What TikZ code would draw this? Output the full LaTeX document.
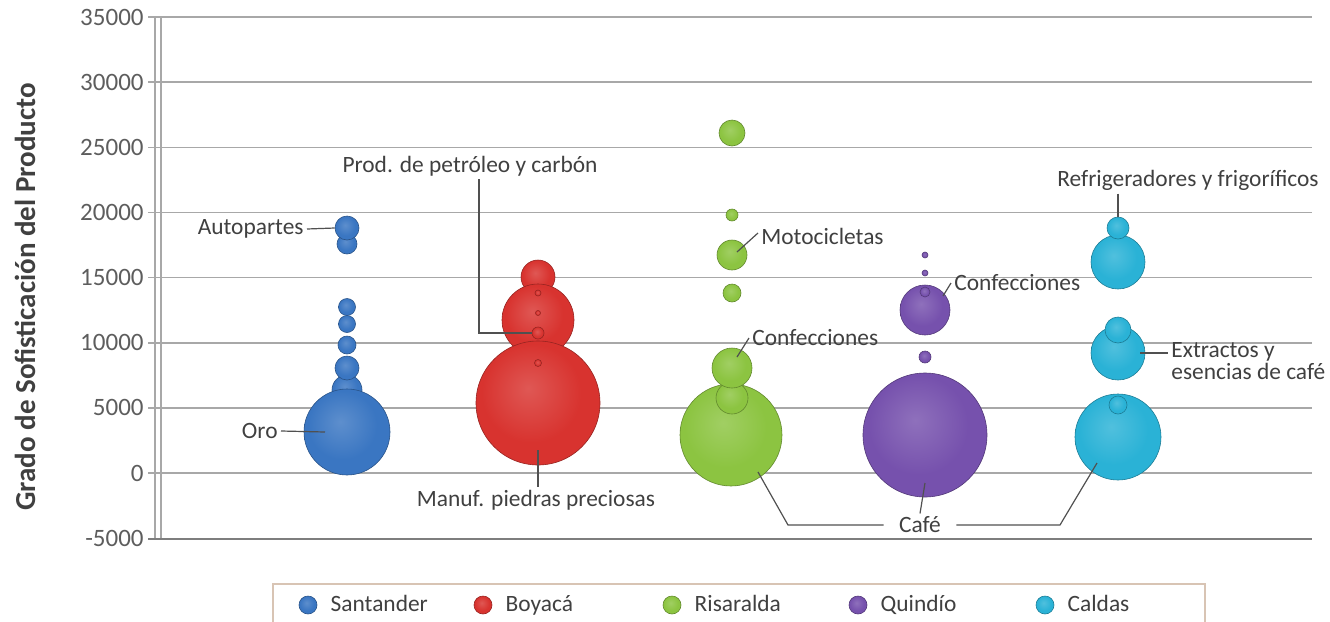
\documentclass[tikz,border=0pt]{standalone}
\usepackage{fontspec}
\setmainfont{Carlito}
\usetikzlibrary{positioning}

\definecolor{santander}{HTML}{3A76C2}
\definecolor{boyaca}{HTML}{D8332F}
\definecolor{risaralda}{HTML}{8CC441}
\definecolor{quindio}{HTML}{7651AD}
\definecolor{caldas}{HTML}{2AB2D6}
\definecolor{gridgray}{HTML}{A8A8A8}
\definecolor{leadgray}{HTML}{505050}
\definecolor{txtgray}{HTML}{404040}
\definecolor{legframe}{HTML}{D8C4B4}

% 3D look of the bubbles
\colorlet{bubhi}{white}\colorlet{bubin}{gray}\colorlet{bubout}{black}
\pgfdeclareradialshading[bubhi,bubin,bubout]{bubble}{\pgfpoint{-4bp}{6bp}}{color(0bp)=(bubhi); color(20bp)=(bubin); color(43bp)=(bubin); color(50bp)=(bubout); color(60bp)=(bubout)}

\tikzset{
  bub/.style={circle, inner sep=0pt, shade, shading=bubble, draw=#1!70!black, line width=0.3pt,
    /utils/exec={\colorlet{bubhi}{#1!82!white}\colorlet{bubin}{#1}\colorlet{bubout}{#1!62!black}}},
}

\begin{document}
\begin{tikzpicture}[x=0.5pt,y=-0.5pt,
  grid/.style={gridgray, line width=0.8pt},
  leader/.style={leadgray, line width=0.6pt},
  lbl/.style={font=\fontsize{11.7}{11.2}\selectfont, text=txtgray, inner sep=1.5pt},
  leglbl/.style={lbl, text height=1.6ex, text depth=0.3ex},
  ticklbl/.style={font=\fontsize{12.5}{14}\selectfont, text=txtgray!85, anchor=east, inner sep=1pt}]
\useasboundingbox (0,0) rectangle (1330,622);

% grid and axes (values in thousands)
\foreach \v in {0,5,...,35}
  \draw[grid] (148,{473-\v*13.025}) -- (1312,{473-\v*13.025});
\foreach \v/\t in {-5/-5000,0/0,5/5000,10/10000,15/15000,20/20000,25/25000,30/30000,35/35000}
  \node[ticklbl] (tick\v) at (146,{473-\v*13.025}) {\t};
\draw[grid] (155,18) -- (155,539);
\draw[grid] (161,18) -- (161,539);
\draw[gridgray!75!black, line width=1pt] (148,539) -- (1312,539);
\node[rotate=90, font=\fontsize{14.5}{16}\selectfont\bfseries, text=txtgray] (ytitle) at (25,297) {Grado de Sofisticación del Producto};

% Santander
\node[bub=santander, minimum size=15] (s1) at (347,390) {};
\node[bub=santander, minimum size=12] (s2) at (347,368) {};
\node[bub=santander, minimum size=9] (s3) at (347,345) {};
\node[bub=santander, minimum size=8.5] (s4) at (347,324) {};
\node[bub=santander, minimum size=8.5] (s5) at (347,307) {};
\node[bub=santander, minimum size=10] (s6) at (347,244) {};
\node[bub=santander, minimum size=12] (autop) at (347,228) {};
\node[bub=santander, minimum size=43] (oro) at (347,432) {};

% Boyaca
\node[bub=boyaca, minimum size=17] (b1) at (538,277) {};
\node[bub=boyaca, minimum size=36] (b2) at (538,320) {};
\node[bub=boyaca, minimum size=62] (boybig) at (538,403) {};
\node[bub=boyaca, minimum size=3] (b3) at (538,293) {};
\node[bub=boyaca, minimum size=2.5] (b4) at (538,313) {};
\node[bub=boyaca, minimum size=6] (petro) at (538,333) {};
\node[bub=boyaca, minimum size=3.5] (b5) at (538,363) {};

% Risaralda
\node[bub=risaralda, minimum size=51] (risbig) at (731,435) {};
\node[bub=risaralda, minimum size=16] (r1) at (732,398) {};
\node[bub=risaralda, minimum size=20] (risconf) at (732,368) {};
\node[bub=risaralda, minimum size=9] (r2) at (732,293) {};
\node[bub=risaralda, minimum size=15] (moto) at (732,255) {};
\node[bub=risaralda, minimum size=6] (r3) at (732,215) {};
\node[bub=risaralda, minimum size=13] (r4) at (732,133) {};

% Quindio
\node[bub=quindio, minimum size=62] (quinbig) at (925,435) {};
\node[bub=quindio, minimum size=6] (q1) at (925,357) {};
\node[bub=quindio, minimum size=25] (quinmed) at (925,310) {};
\node[bub=quindio, minimum size=5] (q2) at (925,292) {};
\node[bub=quindio, minimum size=3] (q3) at (925,273) {};
\node[bub=quindio, minimum size=3] (q4) at (925,255) {};

% Caldas
\node[bub=caldas, minimum size=43] (caldbig) at (1118,437) {};
\node[bub=caldas, minimum size=9] (c1) at (1118,405) {};
\node[bub=caldas, minimum size=27] (extrmed) at (1118,353) {};
\node[bub=caldas, minimum size=13] (c2) at (1118,330) {};
\node[bub=caldas, minimum size=27] (c3) at (1118,262) {};
\node[bub=caldas, minimum size=11] (refr) at (1118,228) {};

% labels
\node[lbl, anchor=east] (autoplbl) at (307,229) {Autopartes};
\draw[leader] (autoplbl.east) -- (autop.west);
\node[lbl, anchor=east] (orolbl) at (281,431) {Oro};
\draw[leader] (orolbl.east) -- ([xshift=-11]oro.center);
\node[lbl] (petrolbl) at (470,166) {Prod. de petróleo y carbón};
\draw[leader] ([xshift=4.5]petrolbl.south) |- (petro.west);
\node[lbl] (manuflbl) at (536,500) {Manuf. piedras preciosas};
\draw[leader] ([yshift=-23.5]boybig.center) -- (boybig.center |- manuflbl.north);
\node[lbl, anchor=west] (motolbl) at (758,236) {Motocicletas};
\draw[leader] ([yshift=1.5]motolbl.west) -- ([xshift=2.5,yshift=1.5]moto.center);
\node[lbl, anchor=west] (risconflbl) at (749,338) {Confecciones};
\draw[leader] (risconflbl.west) -- ([xshift=2.5,yshift=5.5]risconf.center);
\node[lbl, anchor=west] (quinconflbl) at (951,283) {Confecciones};
\draw[leader] (quinconflbl.west) -- ([xshift=9,yshift=7]quinmed.center);
\node[lbl] (cafelbl) at (920,525) {Café};
\coordinate (cafeL) at (788,525);
\coordinate (cafeR) at (1060,525);
\draw[leader] ([xshift=13.5,yshift=-18.5]risbig.center) -- (cafeL) -- ([xshift=-6]cafelbl.west);
\draw[leader] ([yshift=-24]quinbig.center) -- (cafelbl.north);
\draw[leader] ([xshift=6]cafelbl.east) -- (cafeR) -- ([xshift=-10.5,yshift=-13]caldbig.center);
\node[lbl] (refrlbl) at (1188,180) {Refrigeradores y frigoríficos};
\draw[leader] (refrlbl.south -| refr.north) -- (refr.north);
\node[lbl, anchor=west, align=left] (extrlbl) at (1168,361) {Extractos y\\esencias de café};
\draw[leader] ([xshift=11]extrmed.center) -- (extrlbl.west |- extrmed.center);

% legend
\draw[legframe, line width=0.8pt] (273,584) rectangle (1205,640);
\node[bub=santander, minimum size=9] (legsant) at (308,605) {};
\node[leglbl, right=5pt of legsant] {Santander};
\node[bub=boyaca, minimum size=9] (legboy) at (483,605) {};
\node[leglbl, right=5pt of legboy] {Boyacá};
\node[bub=risaralda, minimum size=9] (legris) at (672,605) {};
\node[leglbl, right=5pt of legris] {Risaralda};
\node[bub=quindio, minimum size=9] (legquin) at (858,605) {};
\node[leglbl, right=5pt of legquin] {Quindío};
\node[bub=caldas, minimum size=9] (legcald) at (1045,605) {};
\node[leglbl, right=5pt of legcald] {Caldas};
\end{tikzpicture}
\end{document}
